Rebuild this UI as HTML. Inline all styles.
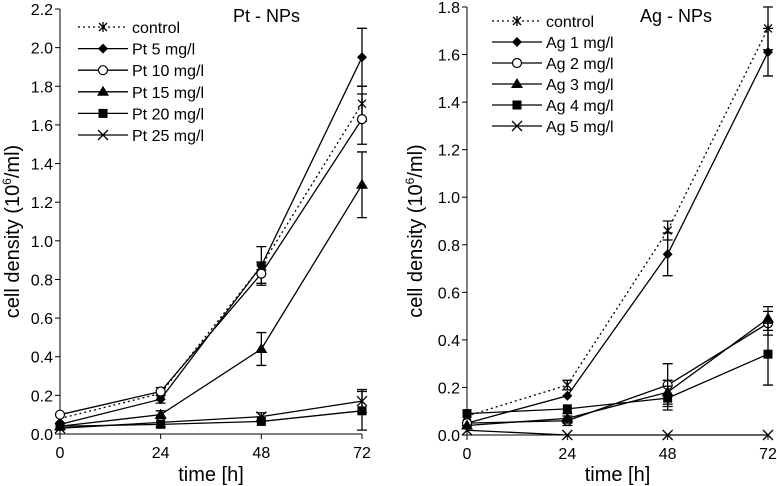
<!DOCTYPE html>
<html><head><meta charset="utf-8"><style>
body{margin:0;background:#fff}
svg{display:block;font-family:"Liberation Sans",Arial,sans-serif}
</style></head><body>
<svg id="c" width="777" height="486"></svg>
<script>
const times=[0,24,48,72];
const ptNames=["control","Pt 5 mg/l","Pt 10 mg/l","Pt 15 mg/l","Pt 20 mg/l","Pt 25 mg/l"];
const ptControl=[0.08,0.21,0.87,1.71];
const pt5=[0.05,0.18,0.87,1.95];
const pt10=[0.10,0.22,0.83,1.63];
const pt15=[0.04,0.10,0.44,1.29];
const pt20=[0.04,0.05,0.065,0.12];
const pt25=[0.03,0.06,0.09,0.17];
const ptErr5=[0.01,0.02,0.1,0.15];
const ptErr10=[0.01,0.02,0.05,0.13];
const ptErr15=[0.01,0.02,0.085,0.17];
const ptErr20=[0.01,0.01,0.01,0.1];
const ptErr25=[0.01,0.01,0.02,0.06];
const ptErrC=[0.01,0.01,0.02,0.09];
const agNames=["control","Ag 1 mg/l","Ag 2 mg/l","Ag 3 mg/l","Ag 4 mg/l","Ag 5 mg/l"];
const agControl=[0.08,0.21,0.86,1.71];
const ag1=[0.05,0.165,0.76,1.61];
const ag2=[0.05,0.06,0.21,0.47];
const ag3=[0.04,0.07,0.18,0.49];
const ag4=[0.09,0.11,0.155,0.34];
const ag5=[0.02,0,0,0];
const agErrC=[0.01,0.02,0.04,0.09];
const agErr1=[0.01,0.01,0.09,0.1];
const agErr2=[0.01,0.02,0.09,0.05];
const agErr3=[0.01,0.02,0.05,0.05];
const agErr4=[0.01,0.01,0.05,0.13];
const agErr5=[0,0,0,0];
const ptTicks=["0.0","0.2","0.4","0.6","0.8","1.0","1.2","1.4","1.6","1.8","2.0","2.2"];
const agTicks=["0.0","0.2","0.4","0.6","0.8","1.0","1.2","1.4","1.6","1.8"];
const xTicks=["0","24","48","72"];
const markers=["star","diamond","circle","triangle","square","x"];

const svg=document.getElementById('c');
const NS="http://www.w3.org/2000/svg";
function el(t,a,p){const e=document.createElementNS(NS,t);for(const k in a)e.setAttribute(k,a[k]);(p||svg).appendChild(e);return e;}
function marker(g,type,x,y){
  if(type==="star"){el('path',{d:`M${x-4},${y-4}L${x+4},${y+4}M${x-4},${y+4}L${x+4},${y-4}M${x},${y-5}L${x},${y+5}`,stroke:'#000','stroke-width':1.3,fill:'none'},g);}
  else if(type==="diamond"){el('path',{d:`M${x},${y-5}L${x+5},${y}L${x},${y+5}L${x-5},${y}Z`,fill:'#000'},g);}
  else if(type==="circle"){el('circle',{cx:x,cy:y,r:4.5,fill:'#fff',stroke:'#000','stroke-width':1.2},g);}
  else if(type==="triangle"){el('path',{d:`M${x},${y-6}L${x+6},${y+4}L${x-6},${y+4}Z`,fill:'#000'},g);}
  else if(type==="square"){el('rect',{x:x-4.5,y:y-4.5,width:9,height:9,fill:'#000'},g);}
  else {el('path',{d:`M${x-5},${y-5}L${x+5},${y+5}M${x-5},${y+5}L${x+5},${y-5}`,stroke:'#000','stroke-width':1.3,fill:'none'},g);}
}
function panel(o){
  const g=el('g',{});
  
  
  const sx=v=>o.x0+(v/72)*(o.x1-o.x0);
  const sy=v=>o.y0-(v/o.ymax)*(o.y0-o.y1);
  el('line',{x1:o.x0,y1:o.y0,x2:o.x0,y2:o.y1,stroke:'#000','stroke-width':1},g);
  el('line',{x1:o.x0,y1:o.y0,x2:o.x1,y2:o.y0,stroke:'#000','stroke-width':1},g);
  o.yt.forEach(t=>{const y=sy(parseFloat(t));
    el('line',{x1:o.x0-5,y1:y,x2:o.x0,y2:y,stroke:'#000'},g);
    const tx=el('text',{x:o.x0-7,y:y+6,'text-anchor':'end','font-size':16},g);tx.textContent=t;
    });
  xTicks.forEach(t=>{const x=sx(+t);
    el('line',{x1:x,y1:o.y0,x2:x,y2:o.y0+5,stroke:'#000'},g);
    const tx=el('text',{x:x,y:o.y0+24,'text-anchor':'middle','font-size':16},g);tx.textContent=t;
    });
  const xt=el('text',{x:(o.x0+o.x1)/2,y:481,'text-anchor':'middle','font-size':20},g);xt.textContent='time [h]';
  
  const yc=(o.y0+o.y1)/2+10;
  const yt=el('text',{x:o.ytx,y:yc,'text-anchor':'middle','font-size':20,transform:`rotate(-90 ${o.ytx} ${yc})`},g);
  yt.innerHTML='cell density (10<tspan dy="-8" font-size="12">6</tspan><tspan dy="8">/ml)</tspan>';
  
  const tt=el('text',{x:o.tx,y:22,'font-size':18},g);tt.textContent=o.title;
  
  o.series.forEach((s,i)=>{
    const sg=el('g',{},g);
    
    
    const pts=s.map((v,j)=>sx(times[j])+','+sy(v)).join(' ');
    el('polyline',{points:pts,fill:'none',stroke:'#000','stroke-width':1.3,'stroke-dasharray':i===0?'2,3':'none'},sg);
    s.forEach((v,j)=>{const e=o.errs[i][j];if(e>0.015){const x=sx(times[j]);
      el('path',{d:`M${x},${sy(v-e)}L${x},${sy(v+e)}M${x-5},${sy(v-e)}L${x+5},${sy(v-e)}M${x-5},${sy(v+e)}L${x+5},${sy(v+e)}`,stroke:'#000','stroke-width':1.3},sg);}});
    s.forEach((v,j)=>marker(sg,markers[i],sx(times[j]),sy(v)));
    const ly=o.ly+i*o.ldy;
    const lg=el('g',{},g);
    
    el('line',{x1:o.lx,y1:ly,x2:o.lx+50,y2:ly,stroke:'#000','stroke-width':1.3,'stroke-dasharray':i===0?'2,3':'none'},lg);
    marker(lg,markers[i],o.lx+25,ly);
    const lt=el('text',{x:o.lx+54,y:ly+6,'font-size':16},lg);lt.textContent=o.names[i];
  });
}
panel({name:'pt-panel',x0:60,x1:362,y0:434,y1:9,ymax:2.2,yt:ptTicks,ytx:19,tx:233,title:'Pt - NPs',
  names:ptNames,series:[ptControl,pt5,pt10,pt15,pt20,pt25],errs:[ptErrC,ptErr5,ptErr10,ptErr15,ptErr20,ptErr25],lx:78,ly:27,ldy:21.6});
panel({name:'ag-panel',x0:467,x1:768,y0:435,y1:7,ymax:1.8,yt:agTicks,ytx:422,tx:640,title:'Ag - NPs',
  names:agNames,series:[agControl,ag1,ag2,ag3,ag4,ag5],errs:[agErrC,agErr1,agErr2,agErr3,agErr4,agErr5],lx:492,ly:21,ldy:21});
</script>
</body></html>
